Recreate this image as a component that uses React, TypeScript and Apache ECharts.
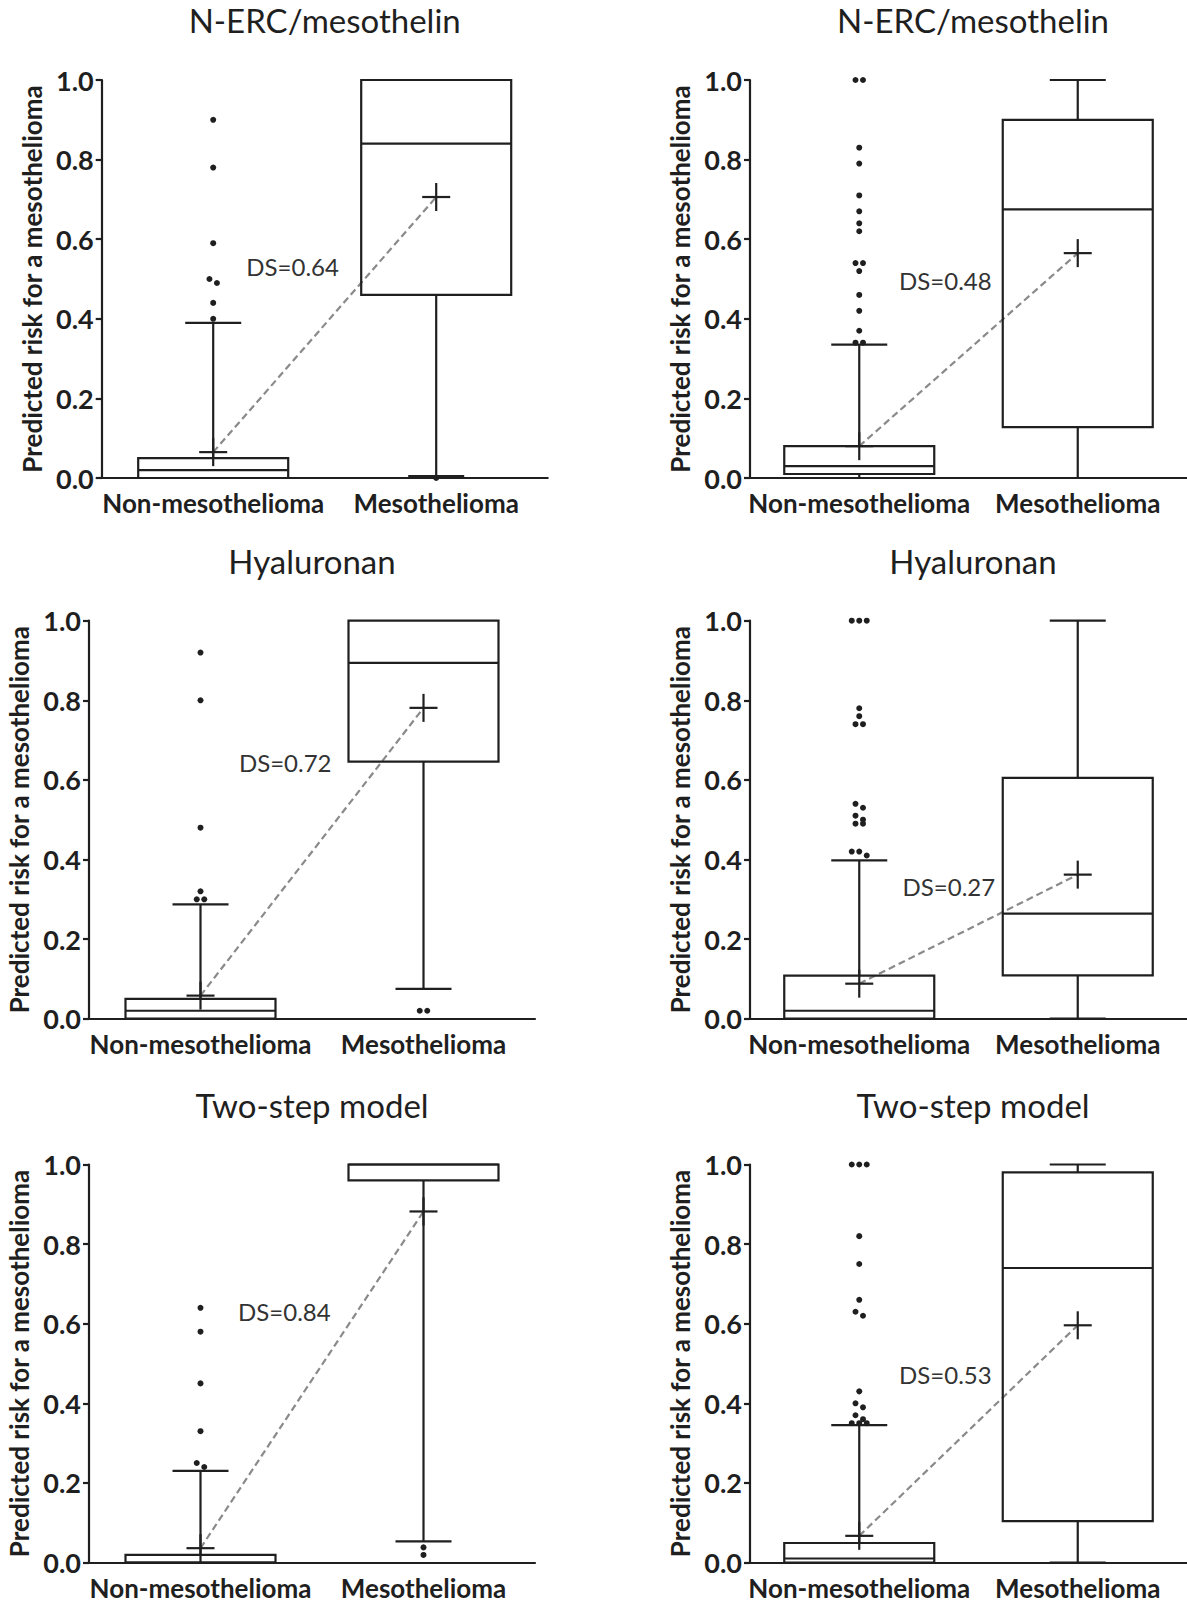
import React, { useEffect, useRef } from 'react';
import * as echarts from 'echarts';

// ---------------- data ----------------
const categories = ['Non-mesothelioma', 'Mesothelioma'];
const panelTitles = ['N-ERC/mesothelin', 'N-ERC/mesothelin', 'Hyaluronan', 'Hyaluronan', 'Two-step model', 'Two-step model'];
const yAxisName = 'Predicted risk for a mesothelioma';
const yTickValues = [0, 0.2, 0.4, 0.6, 0.8, 1.0];

// box statistics: [min, q1, median, q3, max]
const nonMesoStats = [
  [0, 0, 0.02, 0.05, 0.39],
  [0, 0.01, 0.03, 0.08, 0.335],
  [0, 0, 0.02, 0.05, 0.287],
  [0, 0, 0.02, 0.108, 0.398],
  [0, 0, 0, 0.019, 0.23],
  [0, 0, 0.01, 0.049, 0.345],
];
const mesoStats = [
  [0.005, 0.46, 0.84, 1.0, 1.0],
  [0, 0.128, 0.675, 0.9, 1.0],
  [0.075, 0.646, 0.894, 1.0, 1.0],
  [0, 0.109, 0.264, 0.605, 1.0],
  [0.053, 0.96, 1.0, 1.0, 1.0],
  [0, 0.104, 0.74, 0.98, 1.0],
];
const nonMesoMeans = [0.065, 0.08, 0.058, 0.088, 0.036, 0.067];
const mesoMeans = [0.706, 0.565, 0.781, 0.362, 0.882, 0.596];

const nonMesoOutliers = [
  [0.9, 0.78, 0.59, 0.5, 0.49, 0.44, 0.4],
  [1.0, 1.0, 0.83, 0.79, 0.71, 0.67, 0.64, 0.62, 0.54, 0.54, 0.52, 0.46, 0.42, 0.37, 0.34, 0.34],
  [0.92, 0.8, 0.48, 0.32, 0.3, 0.3],
  [1.0, 1.0, 1.0, 0.78, 0.76, 0.74, 0.74, 0.54, 0.53, 0.51, 0.5, 0.49, 0.49, 0.42, 0.42, 0.41],
  [0.64, 0.58, 0.45, 0.33, 0.25, 0.24],
  [1.0, 1.0, 1.0, 0.82, 0.75, 0.66, 0.63, 0.62, 0.43, 0.4, 0.39, 0.37, 0.36, 0.35, 0.35, 0.35],
];
const mesoOutliers = [[0.0], [], [0.02, 0.02], [], [0.038, 0.019], []];

const dsLabels = ['DS=0.64', 'DS=0.48', 'DS=0.72', 'DS=0.27', 'DS=0.84', 'DS=0.53'];
// annotation anchor: [fraction of the way from first to second category, y value]
const dsAnchors = [
  [0.356, 0.531],
  [0.394, 0.496],
  [0.38, 0.643],
  [0.41, 0.332],
  [0.376, 0.631],
  [0.394, 0.472],
];

// ---------------- layout / style ----------------
const GRID_W = 446;
const GRID_H = 398;
const gridLefts = [101.7, 750, 89, 750, 89, 750];
const gridTops = [80, 80, 620.7, 620.7, 1164.5, 1164.5];
const INK = '#1f1f1f';
const FONT = 'Lato';
const BOX_W = 150;
const CAP_W = 56;
const MEAN_W = 28;
const LW = 2.2;
const DOT_R = 3;
const DOT_GAP = 7.5;
const BIN_PX = 5;

function swarm(values: number[], cat: number) {
  const sorted = [...values].sort((a, b) => b - a);
  const rows: number[][] = [];
  for (const v of sorted) {
    const row = rows[rows.length - 1];
    if (row && (row[0] - v) * GRID_H <= BIN_PX) row.push(v);
    else rows.push([v]);
  }
  const out: number[][] = [];
  rows.forEach((row) =>
    row.forEach((v, k) => out.push([cat, v, (k - (row.length - 1) / 2) * DOT_GAP]))
  );
  return out;
}

const renderBox = (params: any, api: any) => {
  const cat = api.value(0);
  const y = (k: number) => api.coord([cat, api.value(k)])[1];
  const cx = api.coord([cat, api.value(3)])[0];
  const yMin = y(1), yQ1 = y(2), yMed = y(3), yQ3 = y(4), yMax = y(5), yMean = y(6);
  const st = { stroke: INK, lineWidth: LW, fill: 'none' };
  const hb = BOX_W / 2, hc = CAP_W / 2, hm = MEAN_W / 2;
  const children: any[] = [];
  children.push({ type: 'rect', shape: { x: cx - hb, y: yQ3, width: BOX_W, height: Math.max(yQ1 - yQ3, 0) }, style: st });
  children.push({ type: 'line', shape: { x1: cx - hb, y1: yMed, x2: cx + hb, y2: yMed }, style: st });
  if (yQ3 - yMax > 0.5) {
    children.push({ type: 'line', shape: { x1: cx, y1: yQ3, x2: cx, y2: yMax }, style: st });
    children.push({ type: 'line', shape: { x1: cx - hc, y1: yMax, x2: cx + hc, y2: yMax }, style: st });
  }
  if (yMin - yQ1 > 0.5) {
    children.push({ type: 'line', shape: { x1: cx, y1: yQ1, x2: cx, y2: yMin }, style: st });
    children.push({ type: 'line', shape: { x1: cx - hc, y1: yMin, x2: cx + hc, y2: yMin }, style: st });
  }
  children.push({ type: 'line', shape: { x1: cx - hm, y1: yMean, x2: cx + hm, y2: yMean }, style: st });
  children.push({ type: 'line', shape: { x1: cx, y1: yMean - hm, x2: cx, y2: yMean + hm }, style: st });
  return { type: 'group', children };
};

const renderDot = (params: any, api: any) => {
  const p = api.coord([api.value(0), api.value(1)]);
  return { type: 'circle', shape: { cx: p[0] + api.value(2), cy: p[1], r: DOT_R }, style: { fill: INK } };
};

function buildOption() {
  const grid: any[] = [];
  const xAxis: any[] = [];
  const yAxis: any[] = [];
  const series: any[] = [];
  const graphic: any[] = [];
  for (let i = 0; i < 6; i++) {
    grid.push({ left: gridLefts[i], top: gridTops[i], width: GRID_W, height: GRID_H });
    xAxis.push({
      gridIndex: i,
      type: 'category',
      data: categories,
      boundaryGap: true,
      axisLine: { lineStyle: { color: INK, width: LW } },
      axisTick: { alignWithLabel: true, length: 6, lineStyle: { color: INK, width: LW } },
      axisLabel: { color: INK, fontSize: 26, fontWeight: 'bold', fontFamily: FONT, margin: 12, interval: 0 },
      splitLine: { show: false },
    });
    yAxis.push({
      gridIndex: i,
      type: 'value',
      min: yTickValues[0],
      max: yTickValues[yTickValues.length - 1],
      interval: 0.2,
      name: yAxisName,
      nameLocation: 'middle',
      nameGap: 57,
      nameTextStyle: { fontSize: 26, fontWeight: 'bold', color: INK, fontFamily: FONT },
      axisLine: { show: true, lineStyle: { color: INK, width: LW } },
      axisTick: { show: true, length: 6, lineStyle: { color: INK, width: LW } },
      axisLabel: { formatter: (v: number) => v.toFixed(1), fontSize: 27, fontWeight: 'bold', color: INK, fontFamily: FONT, margin: 8 },
      splitLine: { show: false },
    });
    series.push({
      type: 'line',
      xAxisIndex: i,
      yAxisIndex: i,
      data: [nonMesoMeans[i], mesoMeans[i]],
      symbol: 'none',
      lineStyle: { type: [7, 4], color: '#8a8a8a', width: LW },
      z: 1,
    });
    series.push({
      type: 'custom',
      xAxisIndex: i,
      yAxisIndex: i,
      renderItem: renderBox,
      data: [
        [0, ...nonMesoStats[i], nonMesoMeans[i]],
        [1, ...mesoStats[i], mesoMeans[i]],
      ],
      z: 2,
    });
    series.push({
      type: 'custom',
      xAxisIndex: i,
      yAxisIndex: i,
      renderItem: renderDot,
      data: [...swarm(nonMesoOutliers[i], 0), ...swarm(mesoOutliers[i], 1)],
      z: 3,
    });
    const anchor = dsAnchors[i];
    const label = dsLabels[i];
    series.push({
      type: 'custom',
      xAxisIndex: i,
      yAxisIndex: i,
      renderItem: (params: any, api: any) => {
        const p0 = api.coord([0, anchor[1]]);
        const p1 = api.coord([1, anchor[1]]);
        return {
          type: 'text',
          x: p0[0] + (p1[0] - p0[0]) * anchor[0],
          y: p0[1],
          style: { text: label, fontSize: 24, fontFamily: FONT, fill: '#333', align: 'center', verticalAlign: 'middle' },
        };
      },
      data: [[0, anchor[1]]],
      z: 4,
    });
    graphic.push({
      type: 'text',
      x: gridLefts[i] + GRID_W / 2,
      y: gridTops[i] - 60,
      style: {
        text: panelTitles[i],
        fontSize: 33,
        fontFamily: FONT,
        fill: INK,
        align: 'center',
        verticalAlign: 'middle',
        textAlign: 'center',
        textVerticalAlign: 'middle',
      },
    });
  }
  return {
    animation: false,
    backgroundColor: '#ffffff',
    textStyle: { fontFamily: FONT },
    grid,
    xAxis,
    yAxis,
    series,
    graphic,
  };
}

export default function App() {
  const ref = useRef<HTMLDivElement>(null);
  useEffect(() => {
    document.body.style.margin = '0';
    const chart = echarts.init(ref.current!, null, { renderer: 'svg' });
    chart.setOption(buildOption() as any);
    return () => chart.dispose();
  }, []);
  return <div ref={ref} style={{ width: 1187, height: 1602 }} />;
}
